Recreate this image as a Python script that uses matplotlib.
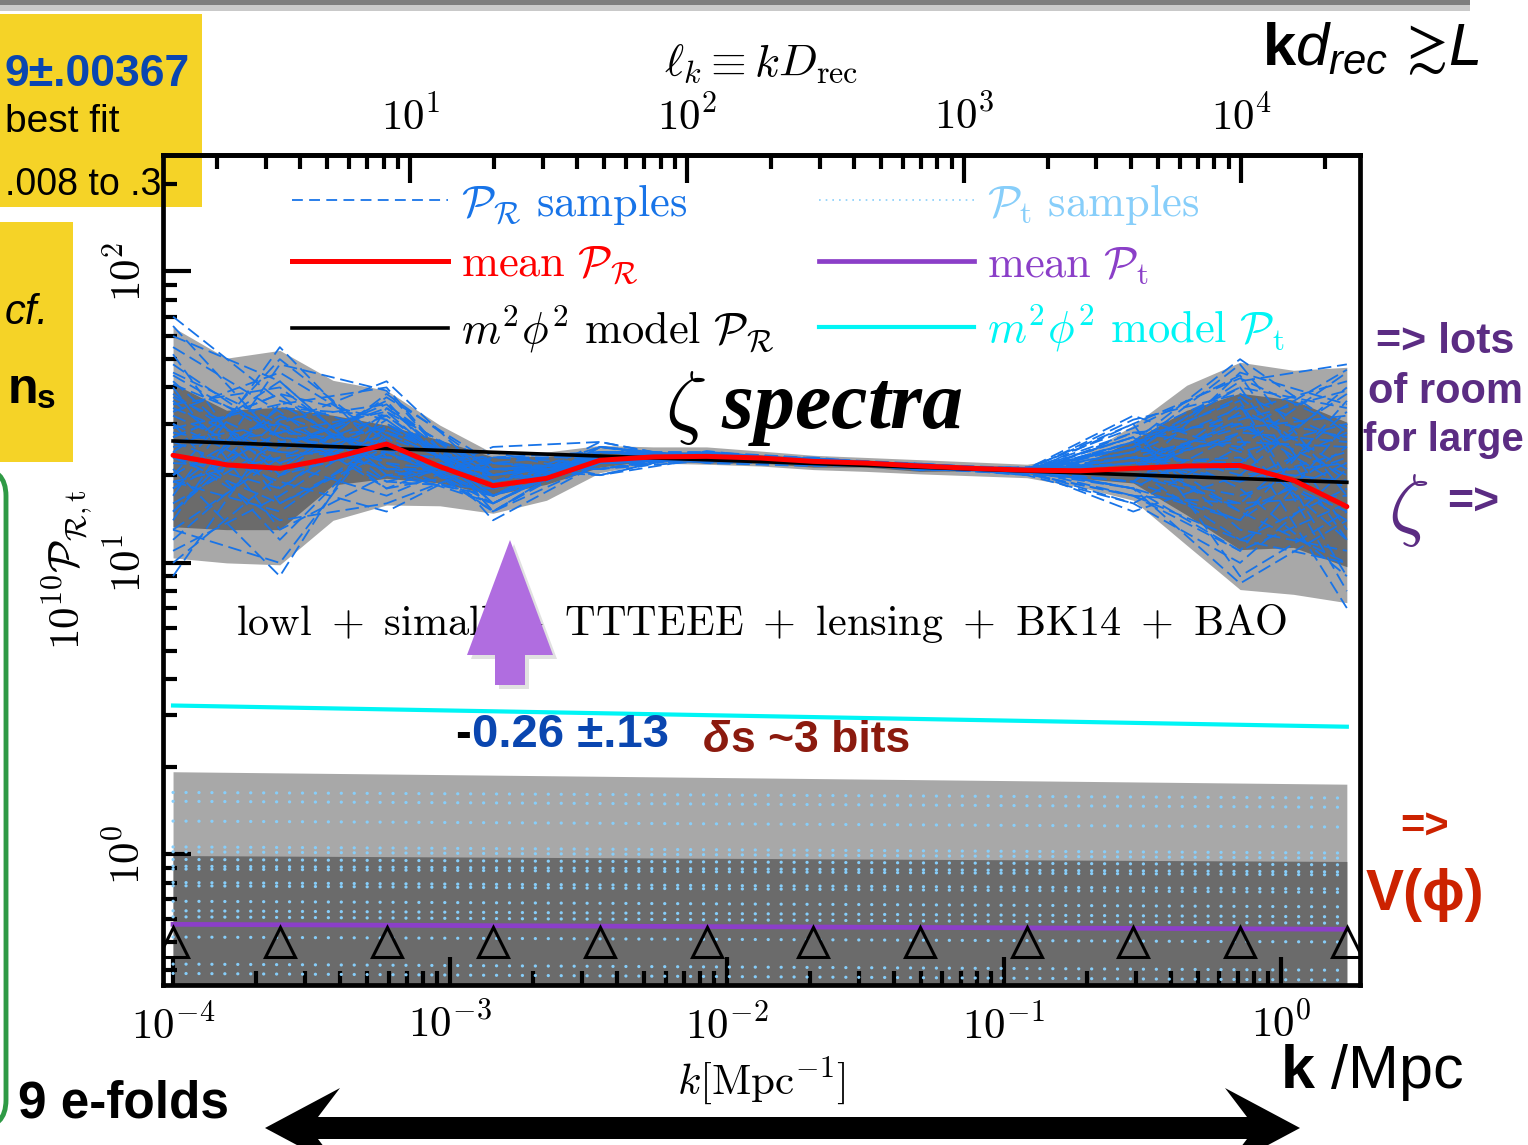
import numpy as np
import matplotlib
matplotlib.use("Agg")
import matplotlib.pyplot as plt
import matplotlib.patches as mpatches
from matplotlib.lines import Line2D
from matplotlib.ticker import FuncFormatter, NullFormatter

plt.rcParams["mathtext.fontset"] = "cm"
plt.rcParams["mathtext.rm"] = "Liberation Sans"
plt.rcParams["mathtext.it"] = "Liberation Sans:italic"
plt.rcParams["mathtext.bf"] = "Liberation Sans:bold"

# ---- data ----
D_REC = 13900.0  # Mpc, for the l_k = k D_rec axis

# knot positions (the triangles)
knots_k = [1.0e-4, 2.43e-4, 5.90e-4, 1.43e-3, 3.48e-3, 8.44e-3,
           2.05e-2, 4.98e-2, 0.121, 0.293, 0.712, 1.73]
# knots plus midpoints, for bands and mean
grid_k = [1.0e-4, 1.56e-4, 2.43e-4, 3.78e-4, 5.90e-4, 9.19e-4, 1.43e-3,
          2.23e-3, 3.48e-3, 5.42e-3, 8.44e-3, 1.32e-2, 2.05e-2, 3.19e-2,
          4.98e-2, 7.75e-2, 0.121, 0.188, 0.293, 0.457, 0.712, 1.11, 1.73]

pr_light_hi = [64.3, 50.4, 53.6, 42.3, 39.1, 29.7, 23.8, 24.0, 25.3, 25.0, 25.0, 24.2,
               23.4, 23.0, 22.6, 22.2, 21.8, 23.1, 29.7, 40.7, 48.8, 45.8, 46.9]
pr_light_lo = [10.4, 10.0, 9.85, 14.0, 15.8, 15.7, 14.8, 16.4, 20.4, 22.0, 21.8, 21.5,
               20.9, 20.6, 20.2, 19.9, 19.6, 18.2, 16.4, 11.5, 8.1, 7.8, 7.3]
pr_dark_hi = [41.3, 33.4, 34.2, 32.1, 29.7, 26.4, 23.1, 23.2, 24.0, 24.0, 24.0, 23.5,
              22.9, 22.5, 22.0, 21.6, 21.2, 21.7, 26.4, 33.4, 38.2, 36.2, 30.4]
pr_dark_lo = [13.3, 13.0, 13.0, 18.5, 19.5, 18.8, 17.1, 18.6, 21.3, 22.5, 22.0, 22.0,
              21.3, 21.3, 20.6, 20.7, 20.2, 19.5, 18.8, 14.6, 11.1, 11.3, 9.7]
pr_mean = [23.4, 21.7, 21.1, 22.9, 25.6, 21.4, 18.4, 19.5, 22.5, 23.1, 23.2, 22.9,
           22.3, 22.0, 21.5, 21.1, 20.8, 20.7, 21.1, 21.5, 21.6, 19.2, 15.6]

# P_R samples at the knots
pr_samples = [
    [23, 18, 31, 17, 23, 23.5, 22.0, 21.5, 20.5, 22, 30, 18],
    [45, 30, 22, 20, 22, 23.0, 22.5, 21.0, 21.0, 18, 14, 25],
    [12, 25, 35, 16, 24, 22.5, 22.0, 21.5, 20.8, 25, 40, 12],
    [60, 42, 20, 22, 21, 23.8, 22.8, 21.2, 20.2, 17, 11, 30],
    [30, 12, 28, 19, 25, 22.0, 21.5, 21.8, 20.6, 27, 18, 9],
    [15, 35, 40, 15, 22, 23.0, 22.5, 21.0, 21.2, 20, 45, 35],
    [38, 22, 17, 24, 20, 24.0, 22.0, 21.5, 20.0, 16, 25, 45],
    [20, 50, 26, 18, 23, 23.2, 21.8, 21.3, 21.0, 30, 9, 15],
    [10, 20, 38, 21, 21, 23.5, 22.7, 21.7, 20.4, 19, 35, 8],
    [52, 16, 24, 17, 26, 22.2, 22.3, 20.8, 20.9, 23, 15, 22],
    [27, 38, 19, 23, 22, 22.8, 23.0, 21.4, 20.3, 26, 50, 28],
    [18, 28, 33, 16, 24, 23.6, 21.6, 21.9, 20.7, 15, 20, 40],
    [65, 26, 21, 20, 23, 22.6, 22.4, 21.1, 21.3, 21, 12, 10],
    [13, 10, 30, 18, 22, 23.4, 22.1, 21.6, 20.1, 28, 30, 20],
    [33, 45, 27, 15, 25, 23.0, 22.6, 20.9, 20.6, 24, 42, 48],
    [24, 14, 16, 22, 20, 24.2, 22.2, 21.5, 21.0, 18, 8.5, 14],
    [9, 30, 42, 19, 23, 22.4, 22.9, 21.2, 20.5, 22, 27, 7],
    [42, 20, 25, 17, 24, 23.3, 21.9, 21.7, 20.8, 31, 38, 26],
    [17, 55, 23, 21, 21, 23.7, 22.5, 21.0, 20.2, 17, 16, 33],
    [28, 24, 36, 14, 22, 22.9, 22.3, 21.8, 21.1, 25, 48, 17],
    [55, 33, 18, 25, 26, 22.1, 22.0, 21.3, 20.4, 20, 22, 38],
    [11, 17, 29, 20, 23, 23.1, 22.7, 21.4, 20.9, 27, 13, 11],
    [35, 40, 21, 16, 24, 23.9, 22.2, 21.1, 20.7, 19, 33, 42],
    [21, 9, 34, 18, 22, 22.7, 22.8, 21.9, 20.3, 23, 19, 24],
    [48, 27, 24, 22, 21, 23.3, 21.7, 21.5, 21.2, 29, 44, 13],
    [14, 48, 39, 15, 25, 22.5, 22.4, 21.0, 20.6, 16, 10, 21],
    [26, 19, 15, 23, 23, 23.6, 22.6, 21.6, 20.8, 21, 28, 46],
    [70, 36, 28, 19, 22, 22.3, 22.1, 21.3, 20.0, 26, 36, 9],
    [19, 23, 32, 17, 24, 24.0, 22.9, 21.2, 21.0, 32, 24, 30],
    [40, 13, 20, 21, 20, 22.9, 21.8, 21.8, 20.5, 18, 11, 16],
    [25, 28, 26, 18, 23, 23.2, 22.4, 21.4, 20.7, 24, 26, 25],
    [32, 22, 30, 20, 22, 23.0, 22.6, 21.3, 20.9, 21, 21, 19],
    [20, 32, 24, 17, 24, 23.4, 22.1, 21.6, 20.5, 26, 32, 27],
    [36, 18, 33, 21, 22, 22.6, 22.5, 21.2, 20.8, 20, 17, 23],
    [16, 26, 29, 19, 23, 23.8, 22.3, 21.5, 20.6, 23, 29, 32],
    [29, 35, 22, 16, 25, 22.9, 22.7, 21.4, 21.0, 22, 23, 14],
    [22, 21, 37, 22, 21, 23.1, 21.9, 21.7, 20.4, 25, 37, 19],
    [41, 29, 19, 18, 24, 23.5, 22.4, 21.1, 20.7, 19, 14, 36],
    [19, 15, 27, 20, 23, 22.7, 22.8, 21.6, 20.9, 28, 25, 12],
    [27, 38, 31, 17, 22, 23.3, 22.2, 21.3, 20.5, 22, 19, 28],
    [34, 24, 23, 23, 24, 22.8, 22.0, 21.8, 20.6, 24, 34, 21],
    [15, 31, 35, 19, 22, 23.6, 22.6, 21.2, 21.1, 20, 16, 17],
    [23, 16, 25, 16, 25, 23.0, 22.5, 21.5, 20.8, 27, 40, 34],
    [44, 27, 21, 21, 21, 22.4, 22.3, 21.7, 20.3, 23, 22, 15],
    [18, 34, 32, 18, 23, 23.9, 22.1, 21.0, 20.9, 18, 28, 26],
    [30, 20, 28, 22, 24, 23.2, 22.9, 21.4, 20.6, 26, 15, 10],
    [24, 42, 20, 17, 22, 22.5, 22.4, 21.9, 20.7, 21, 31, 39],
    [37, 25, 34, 20, 23, 23.7, 21.8, 21.3, 21.0, 25, 20, 22],
    [13, 23, 26, 15, 24, 23.1, 22.6, 21.6, 20.4, 30, 43, 29],
    [26, 30, 18, 21, 22, 22.8, 22.3, 21.2, 20.8, 17, 12, 18],
]

# end points of the straight (log-log) curves
ends_k = [1.0e-4, 1.73]
pr_model = [26.2, 18.9]
pt_model = [3.24, 2.74]
pt_mean = [0.575, 0.553]
pt_light_hi = [1.92, 1.74]
pt_dark_hi = [0.99, 0.945]
pt_band_lo = [0.01, 0.01]
pt_samples_left = [1.63, 1.52, 1.30, 1.06, 1.02, 0.96, 0.91, 0.89, 0.80,
                   0.78, 0.69, 0.64, 0.61, 0.52, 0.42, 0.39]
pt_samples_right = [1.56, 1.45, 1.24, 1.01, 0.97, 0.92, 0.87, 0.85, 0.76,
                    0.74, 0.66, 0.61, 0.58, 0.50, 0.40, 0.37]
knot_marker_y = 0.5

C_SAMP = "#1874e8"
C_TSAMP = "#87cefa"
C_PURPLE = "#8b3fc8"
C_CYAN = "#00f5f5"
SAMP_LS = (0, (7.5, 3.2))
TSAMP_LS = (0, (0.05, 4.0))

W, H = 1528, 1145
fig = plt.figure(figsize=(W / 100, H / 100), dpi=100)

# slide background layer (pixel coords, y down)
bg = fig.add_axes([0, 0, 1, 1], zorder=-1)
bg.set_xlim(0, W)
bg.set_ylim(H, 0)
bg.axis("off")
bg.add_patch(mpatches.Rectangle((0, 0), 1470, 5, color="#7d7d7d", lw=0))
bg.add_patch(mpatches.Rectangle((0, 5), 1470, 6, color="#c9c9c9", lw=0))
bg.add_patch(mpatches.Rectangle((0, 14), 202, 193, color="#f5d327", lw=0))
bg.add_patch(mpatches.Rectangle((0, 222), 73, 240, color="#f5d327", lw=0))
bg.add_patch(mpatches.FancyBboxPatch((-200, 468), 206, 660,
                                     boxstyle="round,pad=0,rounding_size=28",
                                     ec="#2f9a45", fc="none", lw=3.5))

sans = "Liberation Sans"
bg.text(5, 74, "9±.00367", family=sans, weight="bold", color="#0a46b0",
        fontsize=32, ha="left", va="center")
bg.text(5, 122, "best fit", family=sans, color="black", fontsize=28,
        ha="left", va="center")
bg.text(5, 185, ".008 to .3", family=sans, color="black", fontsize=27,
        ha="left", va="center")
bg.text(5, 313, "cf.", family=sans, style="italic", color="black", fontsize=30,
        ha="left", va="center")
bg.text(8, 403, "n", family=sans, weight="bold", color="black", fontsize=36,
        ha="left", va="baseline")
bg.text(37, 408, "s", family=sans, weight="bold", color="black", fontsize=24,
        ha="left", va="baseline")

# ---- main chart ----
ax = fig.add_axes([163 / W, (H - 985) / H, (1360 - 163) / W, (985 - 155) / H], zorder=0)
ax.set_facecolor("none")
ax.set_xscale("log")
ax.set_yscale("log")

ax.fill_between(grid_k, pr_light_lo, pr_light_hi, color="#a8a8a8", lw=0, zorder=1)
ax.fill_between(grid_k, pr_dark_lo, pr_dark_hi, color="#6b6b6b", lw=0, zorder=1.1)
ax.fill_between(ends_k, pt_band_lo, pt_light_hi, color="#a8a8a8", lw=0, zorder=1)
ax.fill_between(ends_k, pt_band_lo, pt_dark_hi, color="#6b6b6b", lw=0, zorder=1.1)

for s in pr_samples:
    ax.plot(knots_k, s, color=C_SAMP, lw=1.3, ls=SAMP_LS, zorder=2)
for a, b in zip(pt_samples_left, pt_samples_right):
    ax.plot(ends_k, [a, b], color=C_TSAMP, lw=2.3, ls=TSAMP_LS,
            dash_capstyle="round", zorder=2)

ax.plot(grid_k, pr_mean, color="red", lw=3.6, zorder=4, solid_capstyle="round")
ax.plot(ends_k, pr_model, color="black", lw=2.6, zorder=3)
ax.plot(ends_k, pt_model, color=C_CYAN, lw=3.0, zorder=3)
ax.plot(ends_k, pt_mean, color=C_PURPLE, lw=3.4, zorder=3)
ax.plot(knots_k, [knot_marker_y] * len(knots_k), ls="none", marker="^",
        ms=21, mfc="none", mec="black", mew=2.2, zorder=5)

ax.set_xlim(9.2e-5, 1.93)
ax.set_ylim(0.356, 251)

dec = FuncFormatter(lambda v, p: r"$10^{%d}$" % round(np.log10(v)))
ax.xaxis.set_major_formatter(dec)
ax.yaxis.set_major_formatter(dec)
ax.xaxis.set_minor_formatter(NullFormatter())
ax.yaxis.set_minor_formatter(NullFormatter())
ax.tick_params(which="major", direction="in", length=20, width=3,
               labelsize=31, top=False, right=False)
ax.tick_params(which="minor", direction="in", length=10, width=3,
               top=False, right=False)
ax.tick_params(axis="x", which="major", pad=14)
ax.tick_params(axis="y", which="major", pad=10, labelrotation=90)
for lab in ax.get_yticklabels():
    lab.set_va("center")
for sp in ax.spines.values():
    sp.set_linewidth(3.4)

ax.set_xlabel(r"$k[\mathrm{Mpc}^{-1}]$", fontsize=31, labelpad=6)
ax.set_ylabel(r"$10^{10}\mathcal{P}_{\mathcal{R},\mathrm{t}}$", fontsize=31, labelpad=8)

secax = ax.secondary_xaxis("top", functions=(lambda k: k * D_REC, lambda l: l / D_REC))
secax.xaxis.set_major_formatter(dec)
secax.xaxis.set_minor_formatter(NullFormatter())
secax.tick_params(which="major", direction="in", length=20, width=3, labelsize=31, pad=12)
secax.tick_params(which="minor", direction="in", length=10, width=3)
secax.spines["top"].set_linewidth(3.4)
secax.set_xlabel(r"$\ell_k \equiv kD_{\rm rec}$", fontsize=33, labelpad=14)

handles = [
    Line2D([], [], color=C_SAMP, lw=1.3, ls=(0, (6, 3.5))),
    Line2D([], [], color="red", lw=3.6),
    Line2D([], [], color="black", lw=2.6),
    Line2D([], [], color=C_TSAMP, lw=1.2, ls=(0, (1, 3))),
    Line2D([], [], color=C_PURPLE, lw=3.4),
    Line2D([], [], color=C_CYAN, lw=3.0),
]
labels = [
    r"$\mathcal{P}_\mathcal{R}\ \mathrm{samples}$",
    r"$\mathrm{mean}\ \mathcal{P}_\mathcal{R}$",
    r"$m^2\phi^2\ \mathrm{model}\ \mathcal{P}_\mathcal{R}$",
    r"$\mathcal{P}_\mathrm{t}\ \mathrm{samples}$",
    r"$\mathrm{mean}\ \mathcal{P}_\mathrm{t}$",
    r"$m^2\phi^2\ \mathrm{model}\ \mathcal{P}_\mathrm{t}$",
]
ax.legend(handles, labels, ncol=2, loc="upper left", bbox_to_anchor=(0.1078, 0.968),
          frameon=False, fontsize=32, handlelength=3.5, handletextpad=0.3,
          columnspacing=1.0, labelspacing=0.36, borderpad=0, borderaxespad=0,
          labelcolor=[C_SAMP, "red", "black", C_TSAMP, C_PURPLE, C_CYAN])

ax.text(0.5, 0.435, r"$\mathrm{lowl}\ +\ \mathrm{simall}\ +\ \mathrm{TTTEEE}\ +\ "
        r"\mathrm{lensing}\ +\ \mathrm{BK14}\ +\ \mathrm{BAO}$",
        transform=ax.transAxes, fontsize=30.5, ha="center", va="center", zorder=6)

# ---- slide annotations on top ----
fg = fig.add_axes([0, 0, 1, 1], zorder=5)
fg.set_xlim(0, W)
fg.set_ylim(H, 0)
fg.axis("off")

fg.add_patch(mpatches.FancyArrow(514, 689, 0, -145, width=30, head_width=86,
                                 head_length=115, length_includes_head=True,
                                 color="#888888", alpha=0.25, lw=0))
fg.add_patch(mpatches.FancyArrow(510, 685, 0, -145, width=30, head_width=86,
                                 head_length=115, length_includes_head=True,
                                 color="#b06de0", lw=0))

fg.add_patch(mpatches.Polygon([(265, 1128), (340, 1088), (318, 1117), (1247, 1117),
                               (1225, 1088), (1300, 1128), (1225, 1168), (1247, 1139),
                               (318, 1139), (340, 1168)], closed=True, color="black", lw=0))

fg.text(814, 408, r"$\zeta$ spectra", family="Liberation Serif", weight="bold",
        style="italic", fontsize=59, ha="center", va="center", math_fontfamily="cm")

fg.text(1262, 65, r"$\mathbf{k}d_{rec}\,\gtrsim\! L$", fontsize=43, ha="left",
        va="baseline", math_fontfamily="custom")
fg.text(1280, 1088, r"$\mathbf{k}$ /Mpc", family=sans, fontsize=44, ha="left",
        va="baseline", math_fontfamily="custom")
fg.text(18, 1117, "9 e-folds", family=sans, weight="bold", fontsize=37,
        ha="left", va="baseline")

purple = "#5b2c83"
fg.text(1445, 342, "=> lots", family=sans, weight="bold", fontsize=31, color=purple,
        ha="center", va="center")
fg.text(1445, 392, "of room", family=sans, weight="bold", fontsize=30, color=purple,
        ha="center", va="center")
fg.text(1443, 440, "for large", family=sans, weight="bold", fontsize=29, color=purple,
        ha="center", va="center")
fg.text(1408, 510, r"$\zeta$", fontsize=58, color=purple, ha="center", va="center",
        math_fontfamily="cm")
fg.text(1473, 503, "=>", family=sans, weight="bold", fontsize=32, color=purple,
        ha="center", va="center")

red = "#cc2200"
fg.text(1425, 828, "=>", family=sans, weight="bold", fontsize=30, color=red,
        ha="center", va="center")
fg.text(1425, 910, "V(ϕ)", family=sans, weight="bold", fontsize=41, color=red,
        ha="center", va="baseline")

fg.text(455, 735, "-", family=sans, weight="bold", fontsize=34, color="black",
        ha="left", va="center")
fg.text(472, 735, "0.26 ±.13", family=sans, weight="bold", fontsize=34, color="#0a46b0",
        ha="left", va="center")
fg.text(703, 741, "δ", family=sans, weight="bold", style="italic", fontsize=32,
        color="#8b1a0e", ha="left", va="center")
fg.text(731, 741, "s ~3 bits", family=sans, weight="bold", fontsize=32,
        color="#8b1a0e", ha="left", va="center")

fig.savefig("out.png", dpi=100)
